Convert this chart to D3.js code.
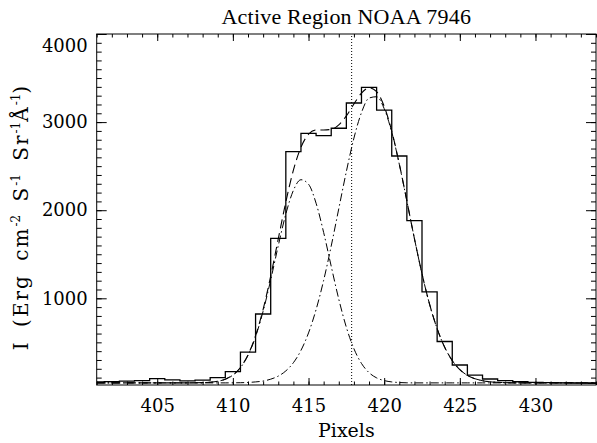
<!DOCTYPE html>
<html><head><meta charset="utf-8">
<script src="https://cdn.jsdelivr.net/npm/d3@7"></script>
<style>
body{margin:0;background:#fff}
text{font-family:"DejaVu Serif",serif;fill:#000}
</style>
</head><body>
<svg id="c" width="597" height="443"></svg>
<script>
// ---- data ----
const pixels    = [401,402,403,404,405,406,407,408,409,410,411,412,413,414,415,416,417,418,419,420,421,422,423,424,425,426,427,428,429,430,431,432,433,434];
const intensity = [50,55,60,65,88,75,62,72,100,167,390,822,1681,2664,2873,2846,2930,3217,3395,3137,2615,1881,1072,510,243,129,84,65,53,46,42,40,38,36];

const fitX = [401,402,403,404,405,406,407,407.5,408,408.5,409,409.5,410,410.5,411,411.5,412,412.5,413,413.5,414,414.5,415,415.5,416,416.5,417,417.5,418,418.5,419,419.5,420,420.5,421,421.5,422,422.5,423,423.5,424,424.5,425,425.5,426,426.5,427,427.5,428,429,430,431,432,433,434];
const fitTotal = [40,40,40,40,40,40,40,41,43,47,58,82,129,215,358,575,875,1251,1674,2093,2454,2715,2862,2911,2911,2917,2968,3070,3206,3329,3389,3345,3179,2898,2525,2105,1677,1278,933,656,444,293,191,125,87,65,52,46,43,40,40,40,40,40,40];
const fitComp1 = [40,40,40,40,40,40,40,41,43,47,58,82,128,213,353,564,854,1209,1597,1957,2225,2346,2295,2079,1747,1363,990,671,428,261,156,97,66,51,44,41,40,40,40,40,40,40,40,40,40,40,40,40,40,40,40,40,40,40,40];
const fitComp2 = [40,40,40,40,40,40,40,40,40,40,40,40,41,42,45,51,61,82,117,176,269,409,607,872,1204,1594,2018,2439,2818,3108,3273,3288,3153,2887,2521,2104,1677,1278,933,656,444,293,191,125,87,65,52,46,43,40,40,40,40,40,40];

const xMajorTicks = [405,410,415,420,425,430];
const xMinorTicks = [401,402,403,404,405,406,407,408,409,410,411,412,413,414,415,416,417,418,419,420,421,422,423,424,425,426,427,428,429,430,431,432,433,434];
const yMajorTicks = [1000,2000,3000,4000];
const yMinorTicks = [100,200,300,400,500,600,700,800,900,1000,1100,1200,1300,1400,1500,1600,1700,1800,1900,2000,2100,2200,2300,2400,2500,2600,2700,2800,2900,3000,3100,3200,3300,3400,3500,3600,3700,3800,3900,4000];
const xDomain = [401, 434];
const yDomain = [16, 4000];
const lineCenter = [417.85];
const titleText = "Active Region NOAA 7946";
const xLabelText = "Pixels";

// ---- layout ----
const L = 96.7, R = 596, T = 34, B = 385;
const svg = d3.select("#c");
const x = d3.scaleLinear().domain(xDomain).range([L, R]);
const y = d3.scaleLinear().domain(yDomain).range([B, T]);

svg.append("defs").append("clipPath").attr("id","clip")
  .append("rect").attr("x",L).attr("y",T).attr("width",R-L).attr("height",B-T);

const plot = svg.append("g").attr("clip-path","url(#clip)");

// histogram (IDL psym=10 style)
plot.append("path")
  .datum(pixels.map((p,i)=>[p,intensity[i]]))
  .attr("fill","none").attr("stroke","#000").attr("stroke-width",1.3)
  .attr("d", d3.line().x(d=>x(d[0])).y(d=>y(d[1])).curve(d3.curveStep));

const fitLine = d3.line().x(d=>x(d[0])).y(d=>y(d[1])).curve(d3.curveMonotoneX);
plot.append("path").datum(fitX.map((v,i)=>[v,fitTotal[i]]))
  .attr("fill","none").attr("stroke","#000").attr("stroke-width",1.1)
  .attr("stroke-dasharray","9,5").attr("d",fitLine);
[fitComp1, fitComp2].forEach(c=>{
  plot.append("path").datum(fitX.map((v,i)=>[v,c[i]]))
    .attr("fill","none").attr("stroke","#000").attr("stroke-width",1)
    .attr("stroke-dasharray","8,3,1.5,3").attr("d",fitLine);
});

// dotted vertical line
plot.selectAll(".vline").data(lineCenter).enter().append("line")
  .attr("x1",d=>x(d)).attr("x2",d=>x(d)).attr("y1",B).attr("y2",T)
  .attr("stroke","#000").attr("stroke-width",1).attr("stroke-dasharray","1,2");

// ---- axes (ticks inward) ----
function styleAxis(g){ g.select(".domain").remove(); g.selectAll("line").attr("stroke","#000"); }
svg.append("g").attr("transform",`translate(0,${B})`)
  .call(d3.axisBottom(x).tickValues(xMinorTicks).tickSize(-3.5).tickFormat("")).call(styleAxis);
svg.append("g").attr("transform",`translate(0,${B})`)
  .call(d3.axisBottom(x).tickValues(xMajorTicks).tickSize(-7).tickPadding(14).tickFormat(d3.format("d")))
  .call(styleAxis).selectAll("text").style("font-size","18px").attr("font-family","DejaVu Serif");
svg.append("g").attr("transform",`translate(0,${T})`)
  .call(d3.axisTop(x).tickValues(xMinorTicks).tickSize(-3.5).tickFormat("")).call(styleAxis);
svg.append("g").attr("transform",`translate(0,${T})`)
  .call(d3.axisTop(x).tickValues(xMajorTicks).tickSize(-7).tickFormat("")).call(styleAxis);

svg.append("g").attr("transform",`translate(${L},0)`)
  .call(d3.axisLeft(y).tickValues(yMinorTicks).tickSize(-5).tickFormat("")).call(styleAxis);
const yAx = svg.append("g").attr("transform",`translate(${L},0)`)
  .call(d3.axisLeft(y).tickValues(yMajorTicks).tickSize(-10).tickPadding(9).tickFormat(d3.format("d")))
  .call(styleAxis);
yAx.selectAll("text").style("font-size","18px").attr("font-family","DejaVu Serif");
yAx.selectAll("text").filter(d=>d===yDomain[1]).attr("dy","0.95em");
svg.append("g").attr("transform",`translate(${R},0)`)
  .call(d3.axisRight(y).tickValues(yMinorTicks).tickSize(-5).tickFormat("")).call(styleAxis);
svg.append("g").attr("transform",`translate(${R},0)`)
  .call(d3.axisRight(y).tickValues(yMajorTicks).tickSize(-10).tickFormat("")).call(styleAxis);

// frame
svg.append("rect").attr("x",L).attr("y",T).attr("width",R-L).attr("height",B-T)
  .attr("fill","none").attr("stroke","#000").attr("stroke-width",1);

// title & labels
svg.append("text").attr("x",(L+R)/2).attr("y",24).attr("text-anchor","middle")
  .style("font-family","'Liberation Serif',serif").style("font-size","22px").style("letter-spacing","0.2px").text(titleText);
svg.append("text").attr("x",(L+R)/2).attr("y",437).attr("text-anchor","middle")
  .style("font-size","19px").text(xLabelText);

const yl = svg.append("text").attr("transform","translate(28,217) rotate(-90)")
  .attr("text-anchor","middle").style("font-size","20px")
  .style("letter-spacing","2px").style("word-spacing","5px");
yl.append("tspan").text("I (Erg cm");
yl.append("tspan").attr("dy",-8).style("font-size","12px").style("letter-spacing","0px").text("-2");
yl.append("tspan").attr("dy",8).text(" S");
yl.append("tspan").attr("dy",-8).style("font-size","12px").style("letter-spacing","0px").text("-1");
yl.append("tspan").attr("dy",8).text(" Sr");
yl.append("tspan").attr("dy",-8).style("font-size","12px").style("letter-spacing","0px").text("-1");
yl.append("tspan").attr("dy",8).text("Å");
yl.append("tspan").attr("dy",-8).style("font-size","12px").style("letter-spacing","0px").text("-1");
yl.append("tspan").attr("dy",8).text(")");
</script>
</body></html>
